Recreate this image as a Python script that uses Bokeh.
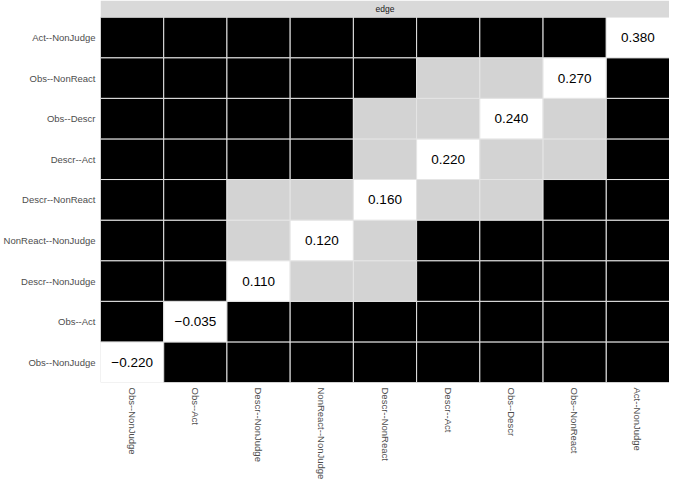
import math
from bokeh.plotting import figure
from bokeh.models import ColumnDataSource, FixedTicker, Range1d, Label
from bokeh.embed import file_html
from bokeh.resources import INLINE

# ---- data ----
edges = ["Obs--NonJudge", "Obs--Act", "Descr--NonJudge", "NonReact--NonJudge",
         "Descr--NonReact", "Descr--Act", "Obs--Descr", "Obs--NonReact", "Act--NonJudge"]
values = [-0.220, -0.035, 0.110, 0.120, 0.160, 0.220, 0.240, 0.270, 0.380]
# pairs of edges NOT significantly different (grey cells); all other off-diagonal pairs are black
nonsig_pairs = [
    ("Obs--NonReact", "Descr--Act"),
    ("Obs--NonReact", "Obs--Descr"),
    ("Obs--Descr", "Descr--NonReact"),
    ("Obs--Descr", "Descr--Act"),
    ("Descr--Act", "Descr--NonReact"),
    ("Descr--NonReact", "Descr--NonJudge"),
    ("Descr--NonReact", "NonReact--NonJudge"),
    ("NonReact--NonJudge", "Descr--NonJudge"),
]
strip_label = "edge"

n = len(edges)
idx = {e: i for i, e in enumerate(edges)}
ns = set()
for a, b in nonsig_pairs:
    ns.add((idx[a], idx[b]))
    ns.add((idx[b], idx[a]))

xs, ys, cols = [], [], []
for i in range(n):      # row (y)
    for j in range(n):  # column (x)
        xs.append(j + 0.5)
        ys.append(i + 0.5)
        if i == j:
            cols.append("#FFFFFF")
        elif (i, j) in ns:
            cols.append("#D3D3D3")
        else:
            cols.append("#000000")
cells = ColumnDataSource(dict(x=xs, y=ys, c=cols))

labels = ColumnDataSource(dict(
    x=[i + 0.5 for i in range(n)],
    y=[i + 0.5 for i in range(n)],
    t=[("%.3f" % v).replace("-", "\u2212") for v in values],
))

W, H = 669, 482
strip_h = 17 / 41.5

p = figure(width=W, height=H, output_backend="svg", toolbar_location=None,
           x_range=Range1d(0, n), y_range=Range1d(0, n + strip_h),
           min_border_left=93, min_border_right=0, min_border_top=0, min_border_bottom=80)
p.outline_line_color = None
p.xgrid.visible = False
p.ygrid.visible = False
p.background_fill_color = "white"
p.border_fill_color = "white"

p.rect(x="x", y="y", width=1, height=1, source=cells, fill_color="c",
       line_color="#E5E5E5", line_width=1)
p.text(x="x", y="y", text="t", source=labels, text_align="center",
       text_baseline="middle", text_font_size="13.5px", text_color="#000000",
       text_font={"value": "Liberation Sans"})

# facet strip
p.quad(left=[0], right=[n], bottom=[n], top=[n + strip_h], fill_color="#D9D9D9",
       line_color=None)
p.add_layout(Label(x=n / 2, y=n + strip_h / 2, text=strip_label, text_align="center",
                   text_baseline="middle", text_font_size="8.5px", text_color="#1A1A1A",
                   text_font="Liberation Sans"))

ticks = [i + 0.5 for i in range(n)]
for ax, rot in ((p.xaxis[0], -math.pi / 2), (p.yaxis[0], 0)):
    ax.ticker = FixedTicker(ticks=ticks)
    ax.major_label_overrides = {t: e for t, e in zip(ticks, edges)}
    ax.axis_line_color = None
    ax.major_tick_line_color = None
    ax.minor_tick_line_color = None
    ax.major_tick_out = 0
    ax.major_tick_in = 0
    ax.minor_tick_out = 0
    ax.minor_tick_in = 0
    ax.axis_label_standoff = 0
    ax.major_label_text_font = "Liberation Sans"
    ax.major_label_text_font_size = "9.5px"
    ax.major_label_text_color = "#4D4D4D"
    ax.major_label_standoff = 5
    ax.major_label_orientation = rot

open("out.html", "w").write(file_html(p, INLINE))
